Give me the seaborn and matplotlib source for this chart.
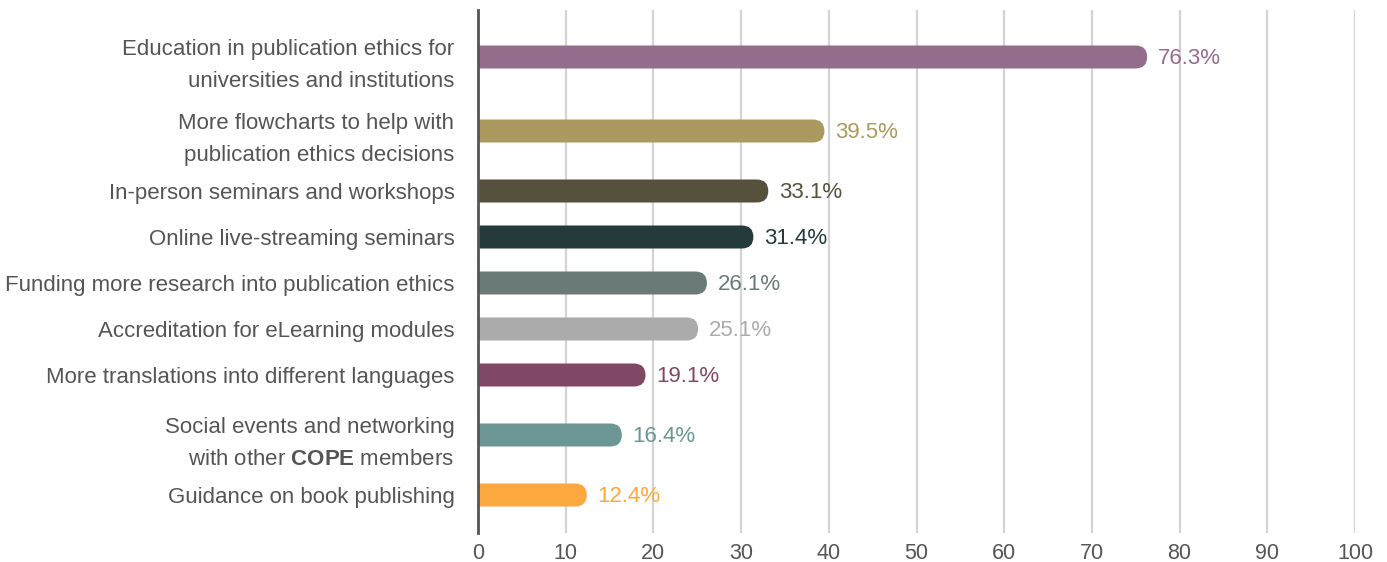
import numpy as np
import pandas as pd
import seaborn as sns
import matplotlib.pyplot as plt
from matplotlib.patches import FancyBboxPatch

labels = [
    "Education in publication ethics for\nuniversities and institutions",
    "More flowcharts to help with\npublication ethics decisions",
    "In-person seminars and workshops",
    "Online live-streaming seminars",
    "Funding more research into publication ethics",
    "Accreditation for eLearning modules",
    "More translations into different languages",
    "Social events and networking\nwith other $\\mathbf{COPE}$ members",
    "Guidance on book publishing",
]
values = [76.3, 39.5, 33.1, 31.4, 26.1, 25.1, 19.1, 16.4, 12.4]
colors = ["#946c8c", "#aa9a5f", "#55513d", "#243a3b", "#6a7a78",
          "#ababab", "#804865", "#6c9693", "#fba83f"]
xticks = list(range(0, 101, 10))

sns.set_theme(style="white")
plt.rcParams['font.family'] = ['Liberation Sans', 'DejaVu Sans']
plt.rcParams['mathtext.fontset'] = 'custom'
plt.rcParams['mathtext.rm'] = 'Liberation Sans'
plt.rcParams['mathtext.bf'] = 'Liberation Sans:bold'

# two-line labels get a taller slot than single-line ones
nlines = [l.count("\n") + 1 for l in labels]
slot = [46 if n == 1 else 74 for n in nlines]
pos = [0.0]
for i in range(1, len(labels)):
    pos.append(pos[-1] + (slot[i - 1] + slot[i]) / 2)

df = pd.DataFrame({"label": labels, "value": values, "pos": pos})

fig = plt.figure(figsize=(13.87, 5.62), dpi=100)
ax = fig.add_axes([478 / 1387, 1 - 533 / 562, 877 / 1387, 523 / 562])
sns.barplot(data=df, x="value", y="pos", hue="label", palette=dict(zip(labels, colors)),
            orient="y", native_scale=True, width=23 / 46, saturation=1,
            legend=False, ax=ax)

ax.set_xlim(0, 100)
ax.set_ylim(pos[-1] + slot[-1] / 2 + 15, -(slot[0] / 2 + 10))

# rounded right end on each bar
px_x = ax.transData.transform((1, 0))[0] - ax.transData.transform((0, 0))[0]
for p in list(ax.patches):
    x0, y0, w, h = p.get_x(), p.get_y(), p.get_width(), p.get_height()
    h_px = abs(ax.transData.transform((0, h))[1] - ax.transData.transform((0, 0))[1])
    r = (h_px / 2) / px_x
    fb = FancyBboxPatch((-r, y0), w + r, h, boxstyle=f"round,pad=0,rounding_size={r}",
                        mutation_aspect=(h / 2) / r, fc=p.get_facecolor(), ec="none",
                        clip_on=True, zorder=2)
    p.remove()
    ax.add_patch(fb)

for v, y, c in zip(values, pos, colors):
    ax.text(v + 1.2, y + 1, f"{v}%", va="center", ha="left", color=c, fontsize=16)

ax.set_xticks(xticks)
ax.set_yticks(pos)
ax.set_yticklabels(labels, linespacing=1.7)
ax.set_xlabel("")
ax.set_ylabel("")
ax.tick_params(axis="y", length=0, pad=17, labelsize=16, labelcolor="#555555")
ax.tick_params(axis="x", length=0, pad=7, labelsize=15.5, labelcolor="#555555")

ax.set_axisbelow(True)
ax.xaxis.grid(True, color="#d4d4d4", lw=1.6)
for s in ["top", "right", "bottom"]:
    ax.spines[s].set_visible(False)
ax.spines["left"].set_color("#555555")
ax.spines["left"].set_linewidth(2)
ax.spines["left"].set_zorder(3)

fig.savefig("out.png", dpi=100)
